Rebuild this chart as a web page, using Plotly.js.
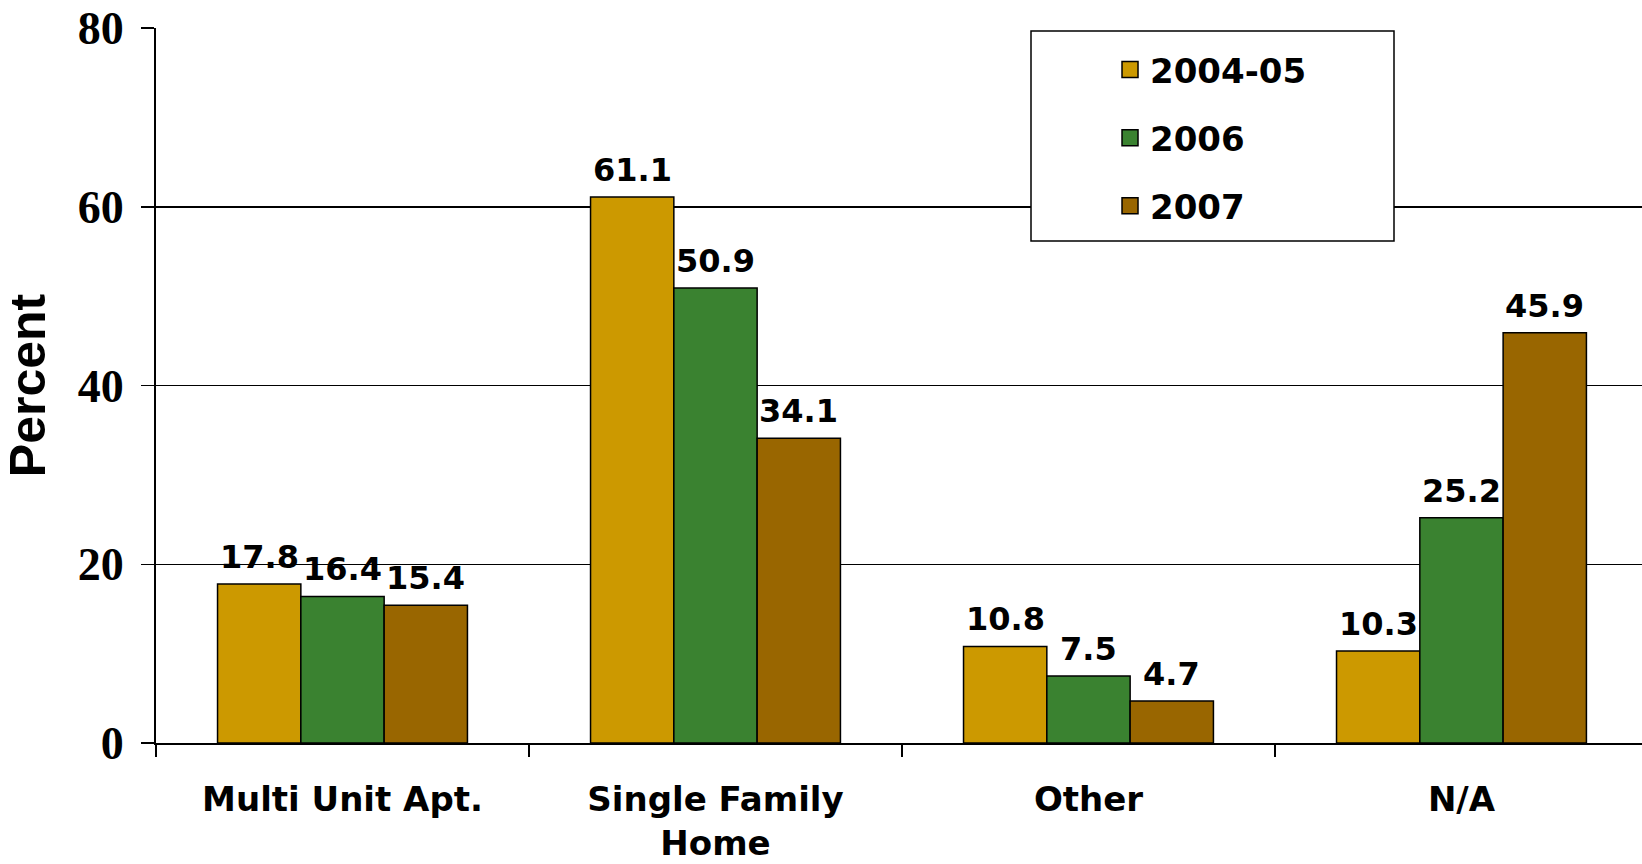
<!DOCTYPE html>
<html>
<head>
<meta charset="utf-8">
<script src="https://cdn.plot.ly/plotly-3.0.1.min.js"></script>
<style>html,body{margin:0;padding:0;background:#fff;}#chart{width:1642px;height:864px;}</style>
</head>
<body>
<div id="chart"></div>
<script>
const categories = ['Multi Unit Apt.', 'Single Family Home', 'Other', 'N/A'];
const tickLabels = ['Multi Unit Apt.', 'Single Family<br>Home', 'Other', 'N/A'];
const seriesNames = ['2004-05', '2006', '2007'];
const values0405 = [17.8, 61.1, 10.8, 10.3];
const values2006 = [16.4, 50.9, 7.5, 25.2];
const values2007 = [15.4, 34.1, 4.7, 45.9];
const colors = ['#CC9900', '#3A8230', '#996600'];
const yTicks = [0, 20, 40, 60, 80];

const allValues = [values0405, values2006, values2007];
const bargap = 0.33;
const labelFont = {family: 'DejaVu Sans', size: 32, color: '#000', weight: 'bold'};

const traces = [];
const annotations = [];
allValues.forEach((vals, i) => {
  traces.push({
    type: 'bar', name: seriesNames[i], x: categories, y: vals,
    marker: {color: colors[i], line: {color: '#000', width: 1.5}},
    showlegend: false, hoverinfo: 'skip'
  });
  traces.push({
    type: 'scatter', mode: 'markers', name: seriesNames[i], x: [null], y: [null],
    marker: {symbol: 'square', size: 16, color: colors[i], line: {color: '#000', width: 1.5}},
    legendgroup: 'g' + i, showlegend: true
  });
  vals.forEach((v, j) => {
    annotations.push({
      xref: 'x', yref: 'y', x: j + (i - 1) * (1 - bargap) / 3, y: v,
      text: v.toFixed(1), showarrow: false, yanchor: 'bottom', yshift: 6,
      font: labelFont
    });
  });
});

const layout = {
  width: 1642, height: 864,
  margin: {l: 156, r: 0, t: 28, b: 121},
  paper_bgcolor: '#fff', plot_bgcolor: '#fff',
  barmode: 'group', bargap: bargap, bargroupgap: 0,
  xaxis: {
    type: 'category', categoryarray: categories, range: [-0.5, 3.484],
    tickmode: 'array', tickvals: categories, ticktext: tickLabels,
    ticks: 'outside', tickson: 'boundaries', ticklen: 12, tickwidth: 1.5, tickcolor: '#000',
    showline: true, linecolor: '#000', linewidth: 2, showgrid: false,
    tickfont: {family: 'DejaVu Sans', size: 34, color: '#000', weight: 'bold'},
    ticklabelstandoff: 25, automargin: false
  },
  yaxis: {
    range: [0, 80], tickmode: 'array', tickvals: yTicks,
    ticks: 'outside', ticklen: 13, tickwidth: 1.5, tickcolor: '#000',
    showline: true, linecolor: '#000', linewidth: 2,
    showgrid: true, gridcolor: '#000', gridwidth: 1.5, zeroline: false,
    tickfont: {family: 'Liberation Serif', size: 46, color: '#000', weight: 'bold'},
    ticklabelstandoff: 8,
    title: {text: 'Percent', font: {family: 'Liberation Sans', size: 50, color: '#000', weight: 'bold'}, standoff: 22},
    automargin: false
  },
  legend: {
    x: 0.642, y: 0.982, xanchor: 'left', yanchor: 'top',
    bgcolor: 'rgba(0,0,0,0)', borderwidth: 0,
    font: {family: 'DejaVu Sans', size: 34, color: '#000', weight: 'bold'},
    tracegroupgap: 21, traceorder: 'grouped'
  },
  shapes: [{
    type: 'rect', xref: 'paper', yref: 'paper', layer: 'above',
    x0: (1031 - 156) / 1486, x1: (1394 - 156) / 1486,
    y0: (743 - 241) / 715, y1: (743 - 31) / 715,
    fillcolor: '#fff', line: {color: '#000', width: 1.5}
  }],
  annotations: annotations,
  showlegend: true
};

Plotly.newPlot('chart', traces, layout, {displayModeBar: false, staticPlot: true});
</script>
</body>
</html>
